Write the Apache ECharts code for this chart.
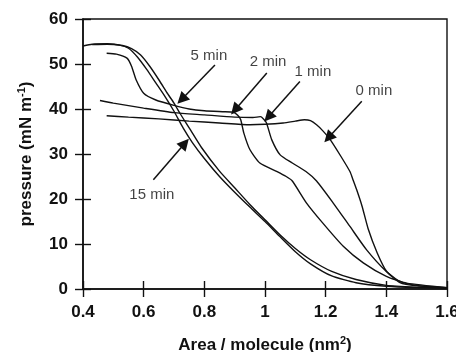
<!DOCTYPE html>
<html>
<head>
<meta charset="utf-8">
<script src="https://cdn.jsdelivr.net/npm/echarts@6/dist/echarts.min.js"></script>
<style>
  html, body { margin: 0; padding: 0; background: #fff; }
  #chart { width: 456px; height: 352px; }
</style>
</head>
<body>
<div id="chart"></div>
<script>
// isotherms: [area nm2, pressure mN/m]
const min0 = [[0.478,38.5],[0.55,38.2],[0.65,37.8],[0.75,37.3],[0.85,36.9],[0.95,36.5],[1.0,36.6],[1.06,36.9],
  [1.10,37.3],[1.13,37.6],[1.15,37.4],[1.17,36.5],[1.19,35.2],[1.215,33.2],[1.25,29.5],[1.28,26.1],[1.29,24.3],
  [1.302,22.1],[1.32,18.4],[1.34,13.4],[1.37,8],[1.40,4],[1.445,1.4],[1.5,0.7],[1.6,0.3]]
const min1 = [[0.456,41.9],[0.5,41.3],[0.6,40.2],[0.7,39.2],[0.8,38.7],[0.9,38.2],[0.96,38.1],[0.985,38.3],
  [0.995,37.8],[1.005,36.9],[1.022,33.2],[1.05,29.8],[1.09,28],[1.135,26.1],[1.17,24.0],[1.225,19.1],[1.28,13.9],
  [1.335,8.7],[1.40,3.9],[1.445,1.7],[1.5,0.8],[1.6,0.3]]
const min2 = [[0.478,52.4],[0.51,52.2],[0.545,51.3],[0.56,49.5],[0.575,46.5],[0.60,43.5],[0.64,42.0],[0.70,40.8],
  [0.75,40.0],[0.80,39.6],[0.86,39.4],[0.895,39.3],[0.91,38.6],[0.92,37.6],[0.93,34.7],[0.95,31],[0.983,28],
  [1.04,26.1],[1.07,25],[1.09,24.0],[1.137,19.1],[1.19,14.7],[1.258,9.5],[1.324,5.8],[1.40,2.8],[1.467,1.3],[1.6,0.3]]
const min5 = [[0.40,54.0],[0.43,54.4],[0.48,54.5],[0.53,54.1],[0.56,53.4],[0.59,52.0],[0.62,49.5],[0.65,46.5],
  [0.68,43.3],[0.70,41.3],[0.72,39.0],[0.75,35.8],[0.79,31.5],[0.85,26.2],[0.90,22.5],[0.95,18.8],[1.0,15.4],
  [1.05,12.0],[1.10,9.0],[1.15,6.5],[1.22,3.9],[1.30,2.1],[1.40,0.8],[1.5,0.4],[1.6,0.2]]
const min15 = [[0.43,54.3],[0.48,54.4],[0.52,54.2],[0.55,53.5],[0.58,51.5],[0.61,48.8],[0.64,45.8],[0.67,42.8],
  [0.70,39.5],[0.73,35.8],[0.76,32.6],[0.80,29],[0.85,25],[0.90,21.5],[0.95,18.2],[1.0,15.0],[1.05,11.6],
  [1.10,8.3],[1.15,5.6],[1.22,2.9],[1.30,1.4],[1.40,0.6],[1.5,0.3],[1.6,0.2]]

const curves = [min0, min1, min2, min5, min15]

// annotations
const labelText = ['5 min', '2 min', '1 min', '0 min', '15 min']
const labelPos = [[0.815,51.8],[1.01,50.5],[1.158,48.2],[1.359,44.1],[0.627,21]]
const arrowFrom = [[0.835,49.8],[1.006,48],[1.115,46.1],[1.319,41.7],[0.632,24.3]]
const arrowTo = [[0.725,42.1],[0.901,39.8],[1.011,38.2],[1.209,33.6],[0.736,32.4]]

const font = '"Liberation Sans", Arial, Helvetica, sans-serif'
const ink = '#111'

const chart = echarts.init(document.getElementById('chart'), null, { renderer: 'canvas' })

const axisBase = {
  axisLine: { show: true, onZero: false, lineStyle: { color: ink, width: 1.6 } },
  splitLine: { show: false },
}
const supStyle = { fontSize: 11, fontWeight: 'bold', fontFamily: font, color: ink, padding: [0, 0, 9, 0] }

chart.setOption({
  animation: false,
  backgroundColor: '#fff',
  grid: { left: 83, right: 9, top: 19, bottom: 63, show: true, borderColor: ink, borderWidth: 1.4,
    outerBoundsMode: 'none', containLabel: false },
  xAxis: [
    { ...axisBase, type: 'value', min: 0.4, max: 1.6, interval: 0.2, position: 'bottom',
      axisTick: { show: true, length: 8, lineStyle: { color: ink, width: 1.4 } },
      axisLabel: { color: ink, fontFamily: font, fontWeight: 'bold', fontSize: 17, margin: 15 },
      name: 'Area / molecule (nm{sup|2})', nameLocation: 'middle', nameGap: 46,
      nameTextStyle: { color: ink, fontFamily: font, fontWeight: 'bold', fontSize: 17, rich: { sup: supStyle } } },
    { type: 'value', min: 0.4, max: 1.6, interval: 0.2, position: 'bottom',
      axisLine: { show: false }, axisLabel: { show: false }, splitLine: { show: false },
      axisTick: { show: true, inside: true, length: 8, lineStyle: { color: ink, width: 1.4 } } },
  ],
  yAxis: [
    { ...axisBase, type: 'value', min: 0, max: 60, interval: 10, position: 'left',
      axisTick: { show: true, length: 8, lineStyle: { color: ink, width: 1.4 } },
      axisLabel: { color: ink, fontFamily: font, fontWeight: 'bold', fontSize: 17, margin: 15 },
      name: 'pressure (mN m{sup|-1})', nameLocation: 'middle', nameGap: 47,
      nameTextStyle: { color: ink, fontFamily: font, fontWeight: 'bold', fontSize: 17, rich: { sup: supStyle } } },
    { type: 'value', min: 0, max: 60, interval: 10, position: 'left',
      axisLine: { show: false }, axisLabel: { show: false }, splitLine: { show: false },
      axisTick: { show: true, inside: true, length: 8, lineStyle: { color: ink, width: 1.4 } } },
  ],
  series: [
    ...curves.map((d) => ({
      type: 'line', data: d, showSymbol: false, smooth: 0.2, silent: true,
      lineStyle: { color: ink, width: 1.4 },
    })),
    {
      type: 'scatter', symbolSize: 0, silent: true,
      data: labelPos.map((p, i) => ({ value: p, name: labelText[i] })),
      label: { show: true, position: 'inside', formatter: '{b}', color: ink, fontFamily: font, fontSize: 15 },
    },
    {
      type: 'lines', coordinateSystem: 'cartesian2d', silent: true,
      symbol: ['none', 'triangle'], symbolSize: 12,
      itemStyle: { color: ink },
      lineStyle: { color: ink, width: 1.5, opacity: 1, curveness: 0 },
      data: arrowFrom.map((f, i) => ({ coords: [f, arrowTo[i]] })),
    },
  ],
})
</script>
</body>
</html>
